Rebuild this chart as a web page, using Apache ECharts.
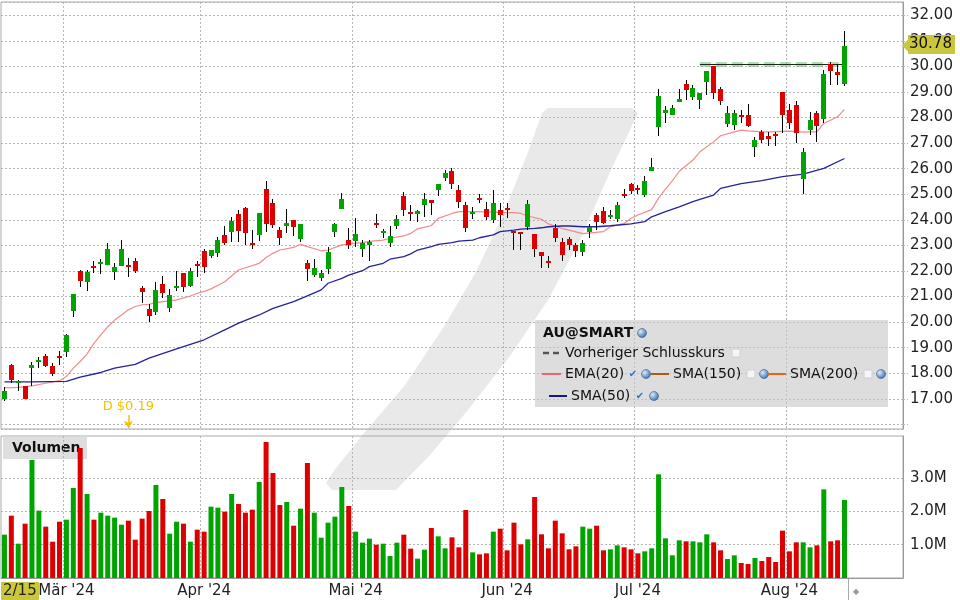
<!DOCTYPE html>
<html><head><meta charset="utf-8">
<script src="https://cdn.jsdelivr.net/npm/echarts@6/dist/echarts.min.js"></script>
<style>html,body{margin:0;padding:0;background:#fff}#c{width:960px;height:600px}</style>
</head><body><div id="c"></div>
<script>
// ---------- categories (trading sessions; last group = empty future sessions) ----------
const sessionMonths = ['2024-02','2024-03','2024-04','2024-05','2024-06','2024-07','2024-08'];
const sessionDays = [
  [16,20,21,22,23,26,27,28,29],
  [1,4,5,6,7,8,11,12,13,14,15,18,19,20,21,22,25,26,27,28],
  [1,2,3,4,5,8,9,10,11,12,15,16,17,18,19,22,23,24,25,26,29,30],
  [1,2,3,6,7,8,9,10,13,14,15,16,17,20,21,22,23,24,28,29,30,31],
  [3,4,5,6,7,10,11,12,13,14,17,18,20,21,24,25,26,27,28],
  [1,2,3,5,8,9,10,11,12,15,16,17,18,19,22,23,24,25,26,29,30,31],
  [1,2,5,6,7,8,9,12,13,14,15,16,19,20,21,22,23]
];
const monthLabels = ["Mär '24","Apr '24","Mai '24","Jun '24","Jul '24","Aug '24"];
const startLabel = '2/15';

// ---------- price data ----------
const openP = [17.00,18.33,17.62,17.51,18.22,18.46,18.68,18.29,18.68,
18.85,20.45,22.01,21.58,22.21,22.28,22.25,21.97,22.19,22.25,22.39,21.35,20.50,20.41,21.49,20.57,21.35,21.92,21.43,22.27,
22.78,22.60,22.72,23.39,23.54,24.23,24.46,23.09,23.41,25.20,24.67,23.60,23.77,23.99,23.26,22.30,21.85,21.74,22.07,23.54,24.41,23.21,
23.18,22.87,23.03,23.87,23.50,23.08,23.76,24.93,24.32,24.24,24.58,24.78,25.16,25.63,25.91,25.16,24.58,24.25,24.85,24.41,23.99,24.38,
24.48,23.58,23.54,23.71,23.45,22.73,22.39,23.69,23.13,23.25,23.00,22.75,23.54,24.19,24.34,24.12,24.03,25.01,25.40,
25.24,24.99,25.92,27.64,28.19,28.09,28.61,29.33,28.81,28.68,29.38,30.01,29.11,27.74,27.70,28.12,28.09,26.86,27.44,27.27,27.36,29.00,
28.29,28.49,25.61,27.53,28.16,27.94,30.11,29.77,29.30];
const highP = [17.45,18.35,17.72,17.52,18.44,18.65,18.76,18.42,18.89,
19.54,21.10,22.04,22.04,22.40,22.45,23.08,22.30,23.21,22.49,22.49,21.41,20.71,21.56,21.80,21.30,22.00,21.92,22.12,22.40,
22.85,22.83,23.34,23.76,24.12,24.38,24.51,23.60,24.28,25.52,24.80,23.73,24.42,23.99,23.84,22.43,22.46,22.04,22.95,23.89,25.06,23.67,
24.06,23.21,23.21,24.23,23.63,23.76,24.19,25.07,24.58,24.38,25.06,24.78,25.40,25.95,26.01,25.36,24.71,24.51,25.03,24.71,25.16,24.64,
24.64,23.58,23.54,24.77,23.45,22.73,22.59,23.84,23.30,23.31,23.10,23.20,23.82,24.25,24.51,24.38,24.71,25.19,25.45,
25.36,25.71,26.43,29.11,28.45,28.49,29.10,29.46,29.27,28.97,29.83,30.01,29.20,28.45,28.29,28.29,28.52,27.25,27.51,27.44,27.44,29.00,
28.55,28.64,26.82,28.20,28.25,29.88,30.18,30.11,31.37];
const lowP = [16.90,17.61,17.32,16.99,17.51,18.20,18.26,17.91,18.33,
18.65,20.19,21.39,21.23,21.91,21.87,22.25,21.65,22.19,21.78,21.93,20.76,20.02,20.26,20.93,20.41,21.23,21.19,21.39,21.78,
21.93,22.50,22.56,23.02,23.15,23.15,23.02,22.86,23.17,23.54,23.67,23.02,23.50,23.38,23.15,21.62,21.75,21.62,21.87,23.34,24.41,22.86,
22.95,22.56,22.40,23.69,23.28,22.95,23.63,24.16,23.97,23.93,24.12,24.19,24.93,25.53,25.19,24.45,23.54,24.03,24.64,23.99,23.89,23.73,
24.06,22.82,22.82,23.60,22.56,22.10,22.10,23.15,22.40,22.82,22.55,22.60,23.28,23.60,23.84,24.02,23.93,24.84,25.01,
25.03,24.90,25.92,27.27,27.79,28.09,28.61,28.68,28.68,28.35,28.88,28.72,28.49,27.64,27.51,27.77,27.64,26.47,26.99,26.88,26.88,27.40,
27.57,27.01,25.01,27.31,27.05,27.79,29.27,29.27,29.23];
const closeP = [17.30,17.74,17.70,17.01,18.34,18.53,18.29,17.99,18.60,
19.50,21.10,21.62,21.97,22.14,22.36,22.86,22.17,22.86,22.18,22.00,21.19,20.24,21.26,21.15,21.06,21.42,21.39,22.00,22.20,
22.17,22.83,23.21,23.11,23.95,23.56,23.50,23.02,24.28,23.84,23.80,23.29,23.86,23.73,23.84,22.07,22.12,21.91,22.76,23.84,24.80,23.02,
23.45,23.11,23.12,23.80,23.56,23.37,24.03,24.38,24.24,24.36,24.80,24.64,25.40,25.85,25.40,24.71,23.69,24.32,24.77,24.12,24.67,24.19,
24.38,23.50,23.47,24.62,22.87,22.59,22.33,23.30,22.61,23.02,22.78,23.08,23.73,23.93,23.89,24.20,24.58,24.93,25.14,
25.15,25.52,26.08,28.84,28.29,28.38,28.71,29.07,29.15,28.97,29.83,28.97,28.65,28.16,28.16,28.06,27.66,27.12,27.12,27.16,27.27,28.09,
27.77,27.40,26.65,27.90,27.66,29.72,29.83,29.66,30.78];
// volume in millions
const volumeM = [1.30,1.87,1.03,1.63,3.54,2.02,1.54,1.09,1.69,
1.75,2.70,3.90,2.52,1.75,1.96,1.87,1.81,1.60,1.72,1.15,1.78,2.01,2.79,2.37,1.33,1.69,1.63,1.09,1.45,
1.39,2.14,2.11,1.99,2.52,2.22,1.96,2.05,2.88,4.08,3.15,2.19,2.28,1.57,2.08,3.45,1.96,1.21,1.66,1.84,2.73,2.16,
1.39,1.06,1.18,1.00,1.03,0.66,1.06,1.30,0.88,0.58,0.85,1.50,1.25,0.89,1.22,0.92,2.04,0.77,0.71,0.74,1.39,1.48,
0.83,1.66,1.01,1.16,2.43,1.31,0.89,1.72,1.34,0.86,0.95,1.54,1.48,1.57,0.83,0.86,0.98,0.92,0.86,
0.74,0.80,0.89,3.11,1.19,0.68,1.13,1.10,1.10,1.07,1.31,1.07,0.83,0.57,0.68,0.45,0.42,0.60,0.51,0.63,0.48,1.42,
0.80,1.07,1.07,0.92,0.98,2.66,1.10,1.13,2.34];
// indicators: [session index, value]
const ema20 = [[0,17.43],[2,17.45],[4,17.51],[6,17.61],[8,17.71],[9,17.87],[10,18.20],[11,18.46],[12,18.76],[13,19.17],[14,19.50],[15,19.82],[16,20.08],[17,20.28],[18,20.48],[19,20.61],[20,20.68],[21,20.70],[22,20.76],[25,20.87],[27,21.02],[28,21.13],[29,21.20],[30,21.30],[32,21.58],[34,22.04],[37,22.30],[38,22.53],[39,22.69],[40,22.82],[42,22.92],[43,23.04],[44,22.95],[46,22.79],[47,22.82],[49,23.02],[50,23.05],[52,23.11],[53,23.16],[55,23.21],[56,23.28],[58,23.37],[59,23.47],[60,23.65],[62,23.78],[63,24.06],[65,24.25],[66,24.32],[68,24.32],[69,24.32],[71,24.30],[72,24.29],[74,24.28],[75,24.25],[76,24.15],[78,24.02],[79,23.84],[81,23.66],[82,23.60],[84,23.46],[87,23.54],[88,23.73],[90,23.86],[91,24.06],[92,24.19],[94,24.40],[95,24.85],[96,25.20],[97,25.52],[98,25.90],[100,26.34],[101,26.66],[103,27.05],[104,27.29],[106,27.44],[107,27.51],[108,27.48],[110,27.44],[111,27.44],[113,27.46],[114,27.47],[116,27.43],[117,27.44],[118,27.44],[119,27.77],[121,28.03],[122,28.32]];
const sma50 = [[0,17.66],[4,17.66],[9,17.68],[11,17.85],[14,18.03],[16,18.20],[19,18.35],[21,18.59],[25,18.95],[29,19.31],[32,19.70],[34,19.96],[37,20.28],[39,20.54],[42,20.80],[44,21.03],[46,21.26],[47,21.52],[49,21.71],[50,21.84],[52,22.01],[53,22.17],[55,22.30],[56,22.46],[58,22.56],[59,22.67],[60,22.82],[62,22.95],[63,23.04],[65,23.11],[66,23.17],[68,23.21],[69,23.30],[71,23.41],[72,23.54],[74,23.60],[75,23.64],[77,23.67],[78,23.69],[79,23.73],[81,23.76],[82,23.76],[84,23.73],[86,23.73],[88,23.77],[91,23.84],[93,23.93],[94,24.12],[96,24.32],[98,24.51],[100,24.71],[101,24.80],[103,24.97],[104,25.23],[107,25.42],[110,25.53],[113,25.69],[116,25.79],[119,26.01],[122,26.40]];
const prevClose = 30.10;
const prevCloseFrom = 101;
const dividend = {index: 18, text: 'D $0.19', top: 16.37, bottom: 15.86};
const priceTicks = [17,18,19,20,21,22,23,24,25,26,27,28,29,30,31,32];
const volTicks = [1,2,3];

// ---------- build ----------
const dates = [];
const monthStartIdx = [];
sessionMonths.forEach((m, mi) => {
  sessionDays[mi].forEach((d, di) => {
    if (di === 0 && mi > 0) monthStartIdx.push(dates.length);
    dates.push(m + '-' + String(d).padStart(2, '0'));
  });
});
const N = closeP.length;
const GREEN = '#00a400', RED = '#dd0000';
const isMonthStart = (i) => monthStartIdx.indexOf(i) >= 0;
const candleData = closeP.map((c, i) => [i, openP[i], c, lowP[i], highP[i]]);
const volData = volumeM.map((v, i) => ({value: v, itemStyle: {color: closeP[i] >= openP[i] ? GREEN : RED}}));
const lastClose = closeP[N - 1];
const FONT = 'DejaVu Sans';
const grid = '#b4b4b4';

const chart = echarts.init(document.getElementById('c'), null, {renderer: 'canvas'});
const option = {
  animation: false,
  textStyle: {fontFamily: FONT},
  grid: [
    {left: 1, top: 2, width: 902, height: 427, show: true, borderColor: '#aaa', borderWidth: 1, backgroundColor: 'rgba(0,0,0,0)'},
    {left: 1, top: 436, width: 902, height: 142, show: true, borderColor: '#aaa', borderWidth: 1, backgroundColor: 'rgba(0,0,0,0)'}
  ],
  xAxis: [
    {type: 'category', gridIndex: 0, data: dates, boundaryGap: true,
     axisLine: {show: false}, axisTick: {show: false}, axisLabel: {show: false},
     splitLine: {show: true, interval: (i) => isMonthStart(i), lineStyle: {color: grid, type: [2, 2]}}},
    {type: 'category', gridIndex: 1, data: dates, boundaryGap: true,
     axisLine: {show: true, lineStyle: {color: '#999'}}, axisTick: {show: false},
     axisLabel: {interval: (i) => isMonthStart(i), formatter: (v, i) => monthLabels[monthStartIdx.indexOf(i)] || '',
       fontSize: 15, color: '#222', margin: 6, fontFamily: FONT},
     splitLine: {show: true, interval: (i) => isMonthStart(i), lineStyle: {color: grid, type: [2, 2]}}}
  ],
  yAxis: [
    {type: 'value', gridIndex: 0, position: 'right', min: 15.82, max: 32.52, splitNumber: 16, scale: true,
     axisLine: {show: true, lineStyle: {color: '#999'}},
     axisTick: {show: true, length: 5, lineStyle: {color: grid, type: [2, 2]}},
     axisLabel: {showMinLabel: false, showMaxLabel: false, fontSize: 15, color: '#222', margin: 7, fontFamily: FONT,
       formatter: (v) => priceTicks.indexOf(Math.round(v * 100) / 100) >= 0 ? v.toFixed(2) : ''},
     splitLine: {show: true, lineStyle: {color: grid, type: [2, 2]}}},
    {type: 'value', gridIndex: 1, position: 'right', min: 0, max: 4.26, interval: 1,
     axisLine: {show: true, lineStyle: {color: '#999'}},
     axisTick: {show: false},
     axisLabel: {fontSize: 15, color: '#222', margin: 7, fontFamily: FONT,
       formatter: (v) => volTicks.indexOf(v) >= 0 ? v.toFixed(1) + 'M' : ''},
     splitLine: {show: false}}
  ],
  series: [
    {type: 'custom', name: 'AU@SMART', xAxisIndex: 0, yAxisIndex: 0, z: 5,
     encode: {x: 0, y: [1, 2, 3, 4]}, data: candleData,
     renderItem: (params, api) => {
       const i = api.value(0), o = api.value(1), c = api.value(2), l = api.value(3), h = api.value(4);
       const po = api.coord([i, o]), pc = api.coord([i, c]), pl = api.coord([i, l]), ph = api.coord([i, h]);
       const x = Math.floor(po[0]);
       const top = Math.round(Math.min(po[1], pc[1])), bot = Math.round(Math.max(po[1], pc[1]));
       return {type: 'group', children: [
         {type: 'rect', shape: {x: x, y: Math.round(ph[1]), width: 1, height: Math.max(1, Math.round(pl[1]) - Math.round(ph[1]))}, style: {fill: '#000'}},
         {type: 'rect', shape: {x: x - 2, y: top, width: 5, height: Math.max(2, bot - top)}, style: {fill: c >= o ? GREEN : RED}}
       ]};
     }},
    {type: 'line', name: 'EMA(20)', xAxisIndex: 0, yAxisIndex: 0, data: ema20, showSymbol: false, connectNulls: true, z: 4,
     lineStyle: {color: '#f38a8a', width: 1.2}, silent: true,
     markLine: {silent: true, symbol: 'none', animation: false, data: [
       [{coord: [prevCloseFrom, prevClose], lineStyle: {color: 'rgba(120,200,120,0.6)', width: 5, type: [11, 5]}},
        {coord: [N - 1, prevClose]}],
       [{coord: [prevCloseFrom, prevClose], lineStyle: {color: '#222', width: 1, type: 'solid'}},
        {coord: [N - 1, prevClose]}],
       [{coord: [dividend.index, dividend.top], symbol: 'none', lineStyle: {color: '#f2c200', width: 1.5, type: 'solid'},
         label: {show: true, position: 'start', distance: 2, formatter: dividend.text, color: '#f2c200', fontSize: 13, fontFamily: FONT}},
        {coord: [dividend.index, dividend.bottom], symbol: 'arrow', symbolSize: 7}]
     ], label: {show: false}}},
    {type: 'line', name: 'SMA(50)', xAxisIndex: 0, yAxisIndex: 0, data: sma50, showSymbol: false, connectNulls: true, z: 4,
     lineStyle: {color: '#23239a', width: 1.3}, silent: true},
    {type: 'bar', name: 'Volumen', xAxisIndex: 1, yAxisIndex: 1, data: volData, barWidth: 5, z: 5,
     markLine: {silent: true, symbol: 'none', label: {show: false},
       lineStyle: {color: grid, type: [2, 2], width: 1},
       data: volTicks.map(v => ({yAxis: v}))}}
  ]
};
chart.setOption(option);

// ---------- decorations (legend, watermark, tags) ----------
const yTag = chart.convertToPixel({yAxisIndex: 0}, lastClose);
const lastX = chart.convertToPixel({xAxisIndex: 1}, N - 1);
const globe = (x, y) => ({type: 'circle', shape: {cx: x, cy: y, r: 4.5}, z: 60,
  style: {fill: new echarts.graphic.RadialGradient(0.35, 0.35, 0.8, [{offset: 0, color: '#d8ecff'}, {offset: 1, color: '#1f5a9e'}]), stroke: '#3b5f8a', lineWidth: 0.6}});
const box = (x, y) => ({type: 'rect', shape: {x: x - 4, y: y - 4, width: 8, height: 8}, z: 60, style: {fill: '#f6f6f6', stroke: '#d0d0d0', lineWidth: 1}});
const tick = (x, y) => ({type: 'text', x: x, y: y, z: 60, style: {text: '\u2714', fill: '#2a73d9', font: '10px ' + FONT, textVerticalAlign: 'middle', textAlign: 'center'}});
const txt = (x, y, s, bold) => ({type: 'text', x: x, y: y, z: 60, style: {text: s, fill: '#111', font: (bold ? 'bold ' : '') + '14px "' + FONT + '"', textVerticalAlign: 'middle'}});
const seg = (x1, x2, y, color, w, dash) => ({type: 'line', z: 60, shape: {x1: x1, y1: y, x2: x2, y2: y}, style: {stroke: color, lineWidth: w, lineDash: dash || null}});

chart.setOption({graphic: {elements: [
  // watermark
  {type: 'polygon', z: -100, silent: true, smooth: 0, shape: {points: [
    [548, 108], [632, 108], [638, 113], [610, 172], [580, 240], [548, 300], [510, 356], [468, 410], [430, 455], [396, 490],
    [332, 490], [326, 483], [336, 468], [360, 438], [405, 385], [445, 325], [477, 270], [505, 210], [528, 152], [542, 113]]},
   style: {fill: '#e9e9e9'}},
  // legend panel
  {type: 'rect', z: 50, shape: {x: 535, y: 320, width: 353, height: 87}, style: {fill: 'rgba(200,200,200,0.62)'}},
  txt(543, 333, 'AU@SMART', true), globe(642, 333),
  seg(543, 561, 353, '#555', 2.5, [6, 4]), txt(565, 353, 'Vorheriger Schlusskurs'), box(736, 353),
  seg(542, 561, 374, '#e56a6a', 2), txt(565, 374, 'EMA(20)'), tick(633, 374), globe(646, 374),
  seg(651, 669, 374, '#b05a10', 2), txt(673, 374, 'SMA(150)'), box(751, 374), globe(764, 374),
  seg(768, 786, 374, '#e8650f', 2), txt(790, 374, 'SMA(200)'), box(868, 374), globe(881, 374),
  seg(549, 567, 396, '#15158c', 2), txt(571, 396, 'SMA(50)'), tick(640, 396), globe(654, 396),
  // volume title
  {type: 'rect', z: -50, shape: {x: 3, y: 437, width: 84, height: 22}, style: {fill: 'rgba(200,200,200,0.6)'}},
  {type: 'text', z: -49, x: 12, y: 448, style: {text: 'Volumen', font: 'bold 14px "' + FONT + '"', fill: '#111', textVerticalAlign: 'middle'}},
  // last price tag
  {type: 'polygon', z: 60, shape: {points: [[902, yTag - 1], [908, yTag - 7], [908, yTag + 5]]}, style: {fill: '#cbc73c'}},
  {type: 'rect', z: 60, shape: {x: 908, y: Math.round(yTag) - 11, width: 47, height: 19}, style: {fill: '#cbc73c'}},
  {type: 'text', z: 61, x: 909, y: Math.round(yTag) - 1.5, style: {text: lastClose.toFixed(2), font: '15px "' + FONT + '"', fill: '#111', textVerticalAlign: 'middle'}},
  // start date tag
  {type: 'rect', z: 60, shape: {x: 1, y: 582, width: 38, height: 18}, style: {fill: '#cbc73c'}},
  {type: 'text', z: 61, x: 3, y: 591, style: {text: startLabel, font: '15px "' + FONT + '"', fill: '#222', textVerticalAlign: 'middle'}},
  // current session marker on time axis
  {type: 'line', z: 60, shape: {x1: Math.round(lastX) + 4.5, y1: 579, x2: Math.round(lastX) + 4.5, y2: 600}, style: {stroke: '#aaa', lineWidth: 1}},
  {type: 'text', z: 60, x: Math.round(lastX) + 9, y: 592, style: {text: '\u25C6', font: '8px "' + FONT + '"', fill: '#999', textVerticalAlign: 'middle'}}
]}});
</script>
</body></html>
